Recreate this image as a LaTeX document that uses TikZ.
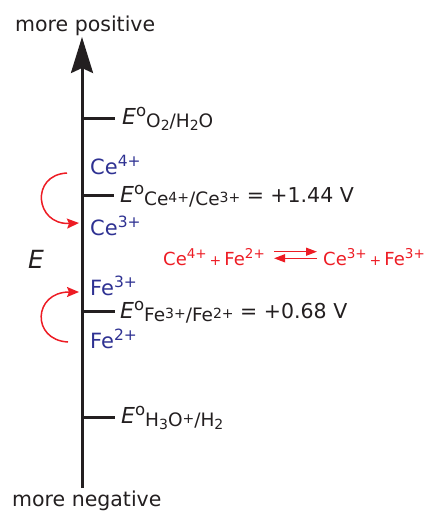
\documentclass[tikz,border=0pt]{standalone}
\usepackage{fontspec}
\setmainfont{DejaVu Sans}
\usetikzlibrary{arrows.meta}
\definecolor{ink}{RGB}{35,31,32}
\definecolor{ionblue}{RGB}{46,49,146}
\definecolor{rxnred}{RGB}{237,28,36}
\newcommand{\Eo}{{\fontsize{22}{24}\selectfont\itshape E}\raisebox{8pt}{\fontsize{16.5}{16}\selectfont o}}
\newcommand{\subtxt}[1]{\raisebox{-3.5pt}{\fontsize{18.5}{19}\selectfont #1}}
\newcommand{\ssup}[1]{\raisebox{3pt}{\fontsize{14}{14}\selectfont #1}}
\newcommand{\ssub}[1]{\raisebox{-3pt}{\fontsize{14}{14}\selectfont #1}}
\newcommand{\isup}[1]{\raisebox{8pt}{\fontsize{15.5}{15}\selectfont #1}}
\newcommand{\rsup}[1]{\raisebox{7pt}{\fontsize{13.5}{13}\selectfont #1}}
\newcommand{\rplus}{\,{\fontsize{14}{14}\selectfont +}\,}
\begin{document}
\begin{tikzpicture}[x=1pt,y=-1pt,
  txt/.style={inner sep=0pt, anchor=base west, font=\fontsize{20.5}{24}\selectfont, text=ink},
  ion/.style={txt, text=ionblue, font=\fontsize{21}{24}\selectfont},
  rxn/.style={inner sep=0pt, anchor=base west, font=\fontsize{18}{20}\selectfont, text=rxnred},
  tickline/.style={line width=3pt, draw=ink},
  redarr/.style={draw=rxnred, line width=1.5pt, -{Stealth[length=12pt,width=10pt,inset=2pt]}},
  eqarr/.style={draw=rxnred, line width=1.4pt, -{Triangle[length=11pt,width=8pt]}},
]
\useasboundingbox (0,0) rectangle (426,512);

% axis
\coordinate (bot) at (82,488);
\coordinate (top) at (82,37);
\draw[line width=3pt, draw=ink, -{Stealth[length=36pt,width=22pt,inset=5pt]}] (bot) -- (top);

\node[txt] (mp) at (15,31) {more positive};
\node[txt] (mn) at (12,506) {more negative};
\node[inner sep=0pt, anchor=base west, font=\fontsize{25}{26}\selectfont\itshape, text=ink] (Elab) at (28,268) {E};

% ticks
\coordinate (k1) at (82,118); \coordinate (k1e) at (115,118);
\coordinate (k2) at (82,195); \coordinate (k2e) at (114,195);
\coordinate (k3) at (82,311); \coordinate (k3e) at (115,311);
\coordinate (k4) at (82,417); \coordinate (k4e) at (115,417);
\draw[tickline] (k1) -- (k1e);
\draw[tickline] (k2) -- (k2e);
\draw[tickline] (k3) -- (k3e);
\draw[tickline] (k4) -- (k4e);

% potential labels
\node[txt] (lO) at (122,124) {\Eo\subtxt{O\ssub{2}/H\ssub{2}O}};
\node[txt] (lCe) at (120,202) {\Eo\subtxt{Ce\ssup{4+}/Ce\ssup{3+}} = +1.44 V};
\node[txt] (lFe) at (120,318) {\Eo\subtxt{Fe\ssup{3+}/Fe\ssup{2+}} = +0.68 V};
\node[txt] (lH) at (121,423) {\Eo\subtxt{H\ssub{3}O\ssup{+}/H\ssub{2}}};

% ions
\node[ion] (ce4) at (90,174) {Ce\isup{4+}};
\node[ion] (ce3) at (90,235) {Ce\isup{3+}};
\node[ion] (fe3) at (90,295) {Fe\isup{3+}};
\node[ion] (fe2) at (90,348) {Fe\isup{2+}};

% curved arrows
\coordinate (a1s) at (67,173); \coordinate (a1e) at (79,223);
\draw[redarr] (a1s) .. controls (30,175) and (35,225) .. (a1e);
\coordinate (a2s) at (68,342); \coordinate (a2e) at (79,292);
\draw[redarr] (a2s) .. controls (31,340) and (33,292) .. (a2e);

% reaction
\node[rxn] (rL) at (163,265) {Ce\rsup{4+}\rplus Fe\rsup{2+}};
\node[rxn] (rR) at (323,265) {Ce\rsup{3+}\rplus Fe\rsup{3+}};
\draw[eqarr] ([shift={(9,-13.3)}]rL.base east) -- ([shift={(-6,-13.3)}]rR.base west);
\draw[eqarr] ([shift={(-6,-6.7)}]rR.base west) -- ([shift={(9,-6.7)}]rL.base east);
\end{tikzpicture}
\end{document}
